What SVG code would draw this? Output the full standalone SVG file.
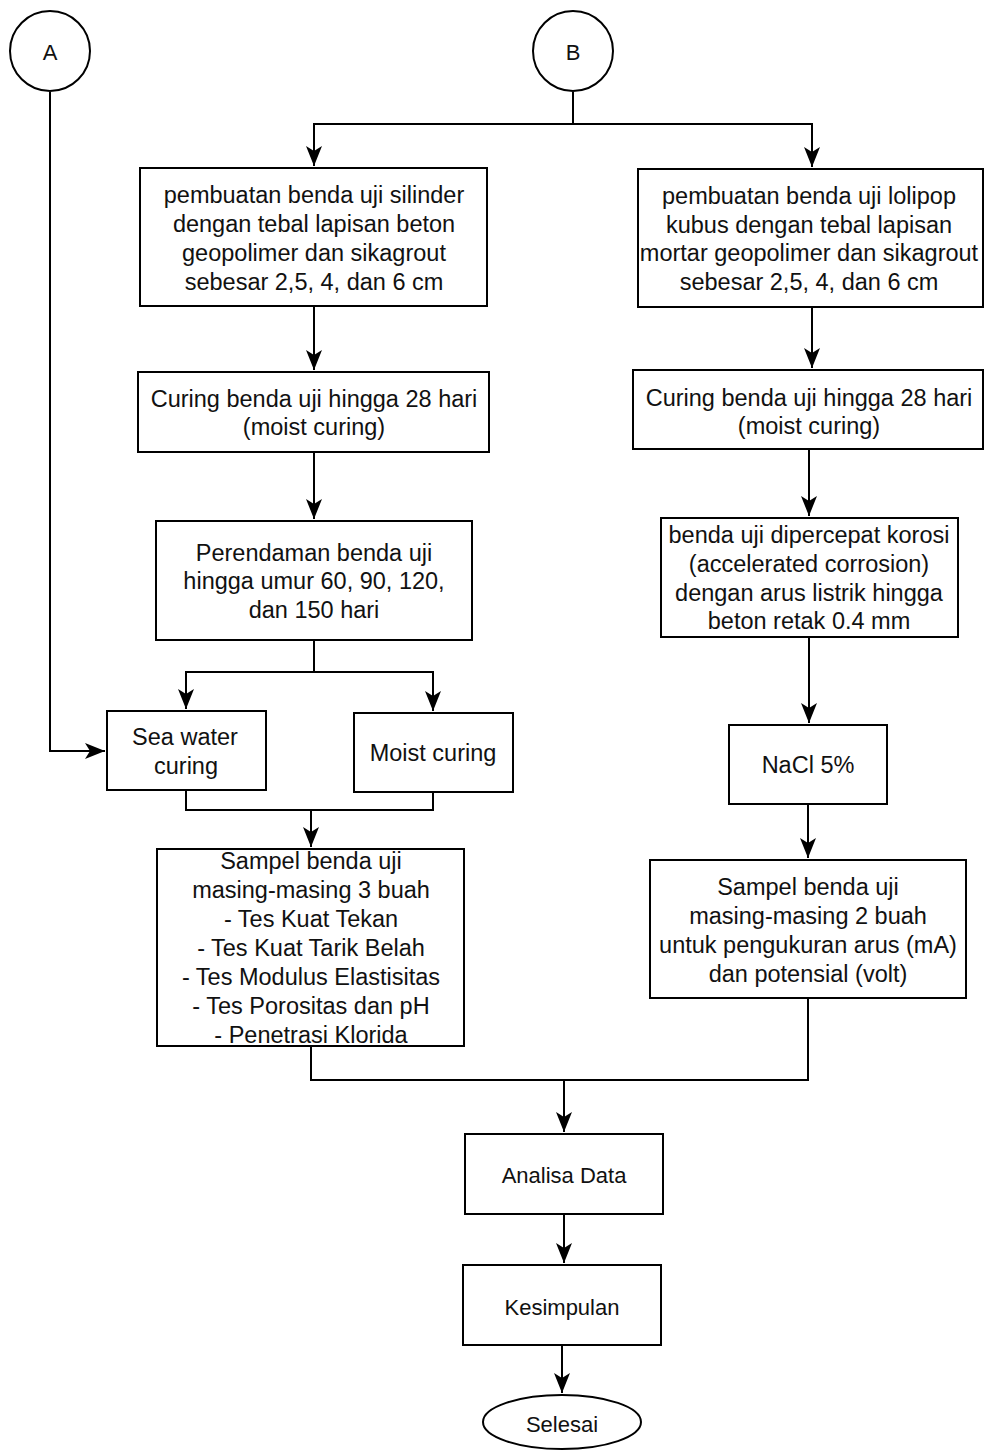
<svg xmlns="http://www.w3.org/2000/svg" width="984" height="1450" viewBox="0 0 984 1450">
<defs>
<marker id="arr" markerUnits="userSpaceOnUse" viewBox="0 0 20 16" markerWidth="20" markerHeight="16" refX="20" refY="8" orient="auto">
<path d="M0,0 L20,8 L0,16 L5,8 Z" fill="#000"/>
</marker>
</defs>
<style>
.box{fill:#fff;stroke:#000;stroke-width:2}
.t{font-family:"Liberation Sans",Arial,sans-serif;font-size:23.5px;fill:#111;text-anchor:middle}
.s{font-size:22px}
.c{fill:none;stroke:#000;stroke-width:2}
</style>
<rect width="984" height="1450" fill="#fff"/>
<g id="connectors">
<path class="c" d="M573,92 V124 H314 V166" marker-end="url(#arr)"/>
<path class="c" d="M573,124 H812 V167" marker-end="url(#arr)"/>
<path class="c" d="M314,306 V370" marker-end="url(#arr)"/>
<path class="c" d="M314,452 V519" marker-end="url(#arr)"/>
<path class="c" d="M314,640 V672 H186 V709" marker-end="url(#arr)"/>
<path class="c" d="M314,672 H433 V711" marker-end="url(#arr)"/>
<path class="c" d="M50,92 V751 H105" marker-end="url(#arr)"/>
<path class="c" d="M186,790 V810 H433 V792"/>
<path class="c" d="M311,810 V847" marker-end="url(#arr)"/>
<path class="c" d="M812,307 V368" marker-end="url(#arr)"/>
<path class="c" d="M809,449 V516" marker-end="url(#arr)"/>
<path class="c" d="M809,637 V723" marker-end="url(#arr)"/>
<path class="c" d="M808,804 V858" marker-end="url(#arr)"/>
<path class="c" d="M311,1046 V1080 H808 V998"/>
<path class="c" d="M564,1080 V1132" marker-end="url(#arr)"/>
<path class="c" d="M564,1214 V1263" marker-end="url(#arr)"/>
<path class="c" d="M562,1345 V1393" marker-end="url(#arr)"/>
</g>
<g id="nodeA">
<circle class="box" cx="50" cy="51" r="40"/>
<text class="t s" x="50" y="60">A</text>
</g>
<g id="nodeB">
<circle class="box" cx="573" cy="51" r="40"/>
<text class="t s" x="573" y="60">B</text>
</g>
<g id="pembuatanSilinder">
<rect class="box" x="140" y="168" width="347" height="138"/>
<text class="t" x="314" y="203">pembuatan benda uji silinder</text>
<text class="t" x="314" y="232">dengan tebal lapisan beton</text>
<text class="t" x="314" y="261">geopolimer dan sikagrout</text>
<text class="t" x="314" y="290">sebesar 2,5, 4, dan 6 cm</text>
</g>
<g id="pembuatanLolipop">
<rect class="box" x="638" y="169" width="345" height="138"/>
<text class="t" x="809" y="204">pembuatan benda uji lolipop</text>
<text class="t" x="809" y="233">kubus dengan tebal lapisan</text>
<text class="t" x="809" y="261">mortar geopolimer dan sikagrout</text>
<text class="t" x="809" y="290">sebesar 2,5, 4, dan 6 cm</text>
</g>
<g id="curingL">
<rect class="box" x="138" y="372" width="351" height="80"/>
<text class="t" x="314" y="407">Curing benda uji hingga 28 hari</text>
<text class="t" x="314" y="435">(moist curing)</text>
</g>
<g id="curingR">
<rect class="box" x="633" y="370" width="350" height="79"/>
<text class="t" x="809" y="406">Curing benda uji hingga 28 hari</text>
<text class="t" x="809" y="434">(moist curing)</text>
</g>
<g id="perendaman">
<rect class="box" x="156" y="521" width="316" height="119"/>
<text class="t" x="314" y="561">Perendaman benda uji</text>
<text class="t" x="314" y="589">hingga umur 60, 90, 120,</text>
<text class="t" x="314" y="618">dan 150 hari</text>
</g>
<g id="korosi">
<rect class="box" x="661" y="518" width="297" height="119"/>
<text class="t" x="809" y="543">benda uji dipercepat korosi</text>
<text class="t" x="809" y="572">(accelerated corrosion)</text>
<text class="t" x="809" y="601">dengan arus listrik hingga</text>
<text class="t" x="809" y="629">beton retak 0.4 mm</text>
</g>
<g id="seaWater">
<rect class="box" x="107" y="711" width="159" height="79"/>
<text class="t" x="185" y="745">Sea water</text>
<text class="t" x="186" y="774">curing</text>
</g>
<g id="moistCuring">
<rect class="box" x="354" y="713" width="159" height="79"/>
<text class="t" x="433" y="761">Moist curing</text>
</g>
<g id="nacl">
<rect class="box" x="729" y="725" width="158" height="79"/>
<text class="t" x="808" y="773">NaCl 5%</text>
</g>
<g id="sampelL">
<rect class="box" x="157" y="849" width="307" height="197"/>
<text class="t" x="311" y="869">Sampel benda uji</text>
<text class="t" x="311" y="898">masing-masing 3 buah</text>
<text class="t" x="311" y="927">- Tes Kuat Tekan</text>
<text class="t" x="311" y="956">- Tes Kuat Tarik Belah</text>
<text class="t" x="311" y="985">- Tes Modulus Elastisitas</text>
<text class="t" x="311" y="1014">- Tes Porositas dan pH</text>
<text class="t" x="311" y="1043">- Penetrasi Klorida</text>
</g>
<g id="sampelR">
<rect class="box" x="650" y="860" width="316" height="138"/>
<text class="t" x="808" y="895">Sampel benda uji</text>
<text class="t" x="808" y="924">masing-masing 2 buah</text>
<text class="t" x="808" y="953">untuk pengukuran arus (mA)</text>
<text class="t" x="808" y="982">dan potensial (volt)</text>
</g>
<g id="analisa">
<rect class="box" x="465" y="1134" width="198" height="80"/>
<text class="t s" x="564" y="1183">Analisa Data</text>
</g>
<g id="kesimpulan">
<rect class="box" x="463" y="1265" width="198" height="80"/>
<text class="t s" x="562" y="1315">Kesimpulan</text>
</g>
<g id="selesai">
<ellipse class="box" cx="562" cy="1422" rx="79" ry="27"/>
<text class="t s" x="562" y="1432">Selesai</text>
</g>
</svg>
